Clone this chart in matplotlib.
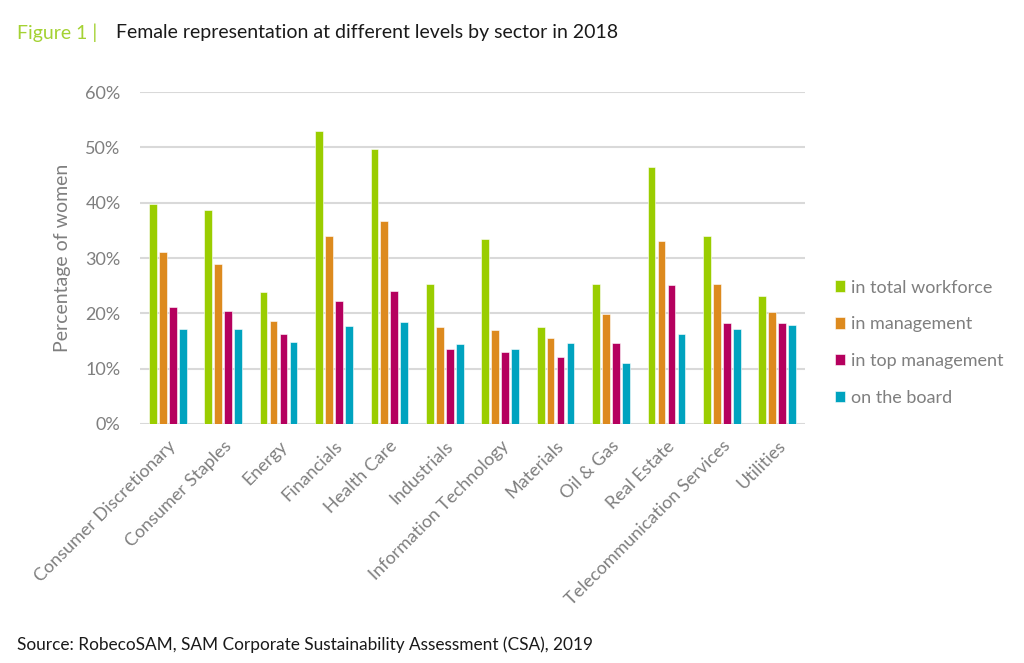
import matplotlib
matplotlib.use("Agg")
import matplotlib.pyplot as plt
from matplotlib.ticker import PercentFormatter
import numpy as np

plt.rcParams["font.family"] = ["Lato", "DejaVu Sans"]

sectors = ["Consumer Discretionary", "Consumer Staples", "Energy", "Financials",
           "Health Care", "Industrials", "Information Technology", "Materials",
           "Oil & Gas", "Real Estate", "Telecommunication Services", "Utilities"]

total_workforce = [39.8, 38.7, 23.9, 53.0, 49.7, 25.3, 33.4, 17.5, 25.3, 46.4, 34.0, 23.1]
management = [31.1, 29.0, 18.7, 34.0, 36.7, 17.5, 17.0, 15.6, 19.9, 33.0, 25.3, 20.2]
top_management = [21.2, 20.5, 16.2, 22.3, 24.1, 13.5, 13.0, 12.1, 14.6, 25.1, 18.3, 18.3]
on_board = [17.1, 17.1, 14.8, 17.8, 18.5, 14.4, 13.5, 14.6, 11.1, 16.2, 17.1, 17.9]

series = [("in total workforce", total_workforce, "#9acd00"),
          ("in management", management, "#dd8a1e"),
          ("in top management", top_management, "#b5005e"),
          ("on the board", on_board, "#00a3bf")]

grey = "#7f7f7f"

fig = plt.figure(figsize=(10.24, 6.63), dpi=100)
ax = fig.add_axes([0.1367, 0.3605, 0.6494, 0.5007])

x = np.arange(len(sectors))
slot = 0.18
for i, (name, vals, col) in enumerate(series):
    ax.bar(x + (i - 1.5) * slot, vals, width=0.14, color=col, label=name,
           edgecolor="white", linewidth=0.4, zorder=3)

ax.set_xlim(-0.5, len(sectors) - 0.5)
ax.set_ylim(0, 60)
ax.set_yticks(np.arange(0, 61, 10))
ax.yaxis.set_major_formatter(PercentFormatter(decimals=0))
ax.grid(axis="y", color="#d9d9d9", linewidth=1.5, zorder=0)
for s in ax.spines.values():
    s.set_visible(False)
ax.tick_params(axis="both", length=0, colors=grey, labelsize=13)
ax.tick_params(axis="y", pad=14)
ax.set_xticks(x)
ax.set_xticklabels(sectors, rotation=45, ha="right", rotation_mode="anchor",
                   fontsize=13, color=grey)
ax.tick_params(axis="x", pad=10)
ax.set_ylabel("Percentage of women", fontsize=14, color=grey, labelpad=10)

leg = ax.legend(loc="center left", bbox_to_anchor=(1.02, 0.245), frameon=False,
                fontsize=13, handlelength=0.6, handleheight=0.6, handletextpad=0.3,
                labelspacing=1.15)
for t in leg.get_texts():
    t.set_color(grey)

fig.text(0.017, 0.951, "Figure 1 |", fontsize=14, color="#a4d233", va="center")
fig.text(0.113, 0.951, "Female representation at different levels by sector in 2018",
         fontsize=14, color="#1a1a1a", va="center")
fig.text(0.017, 0.027, "Source: RobecoSAM, SAM Corporate Sustainability Assessment (CSA), 2019",
         fontsize=12.4, color="#1a1a1a", va="center")

fig.savefig("out.png", dpi=100)
